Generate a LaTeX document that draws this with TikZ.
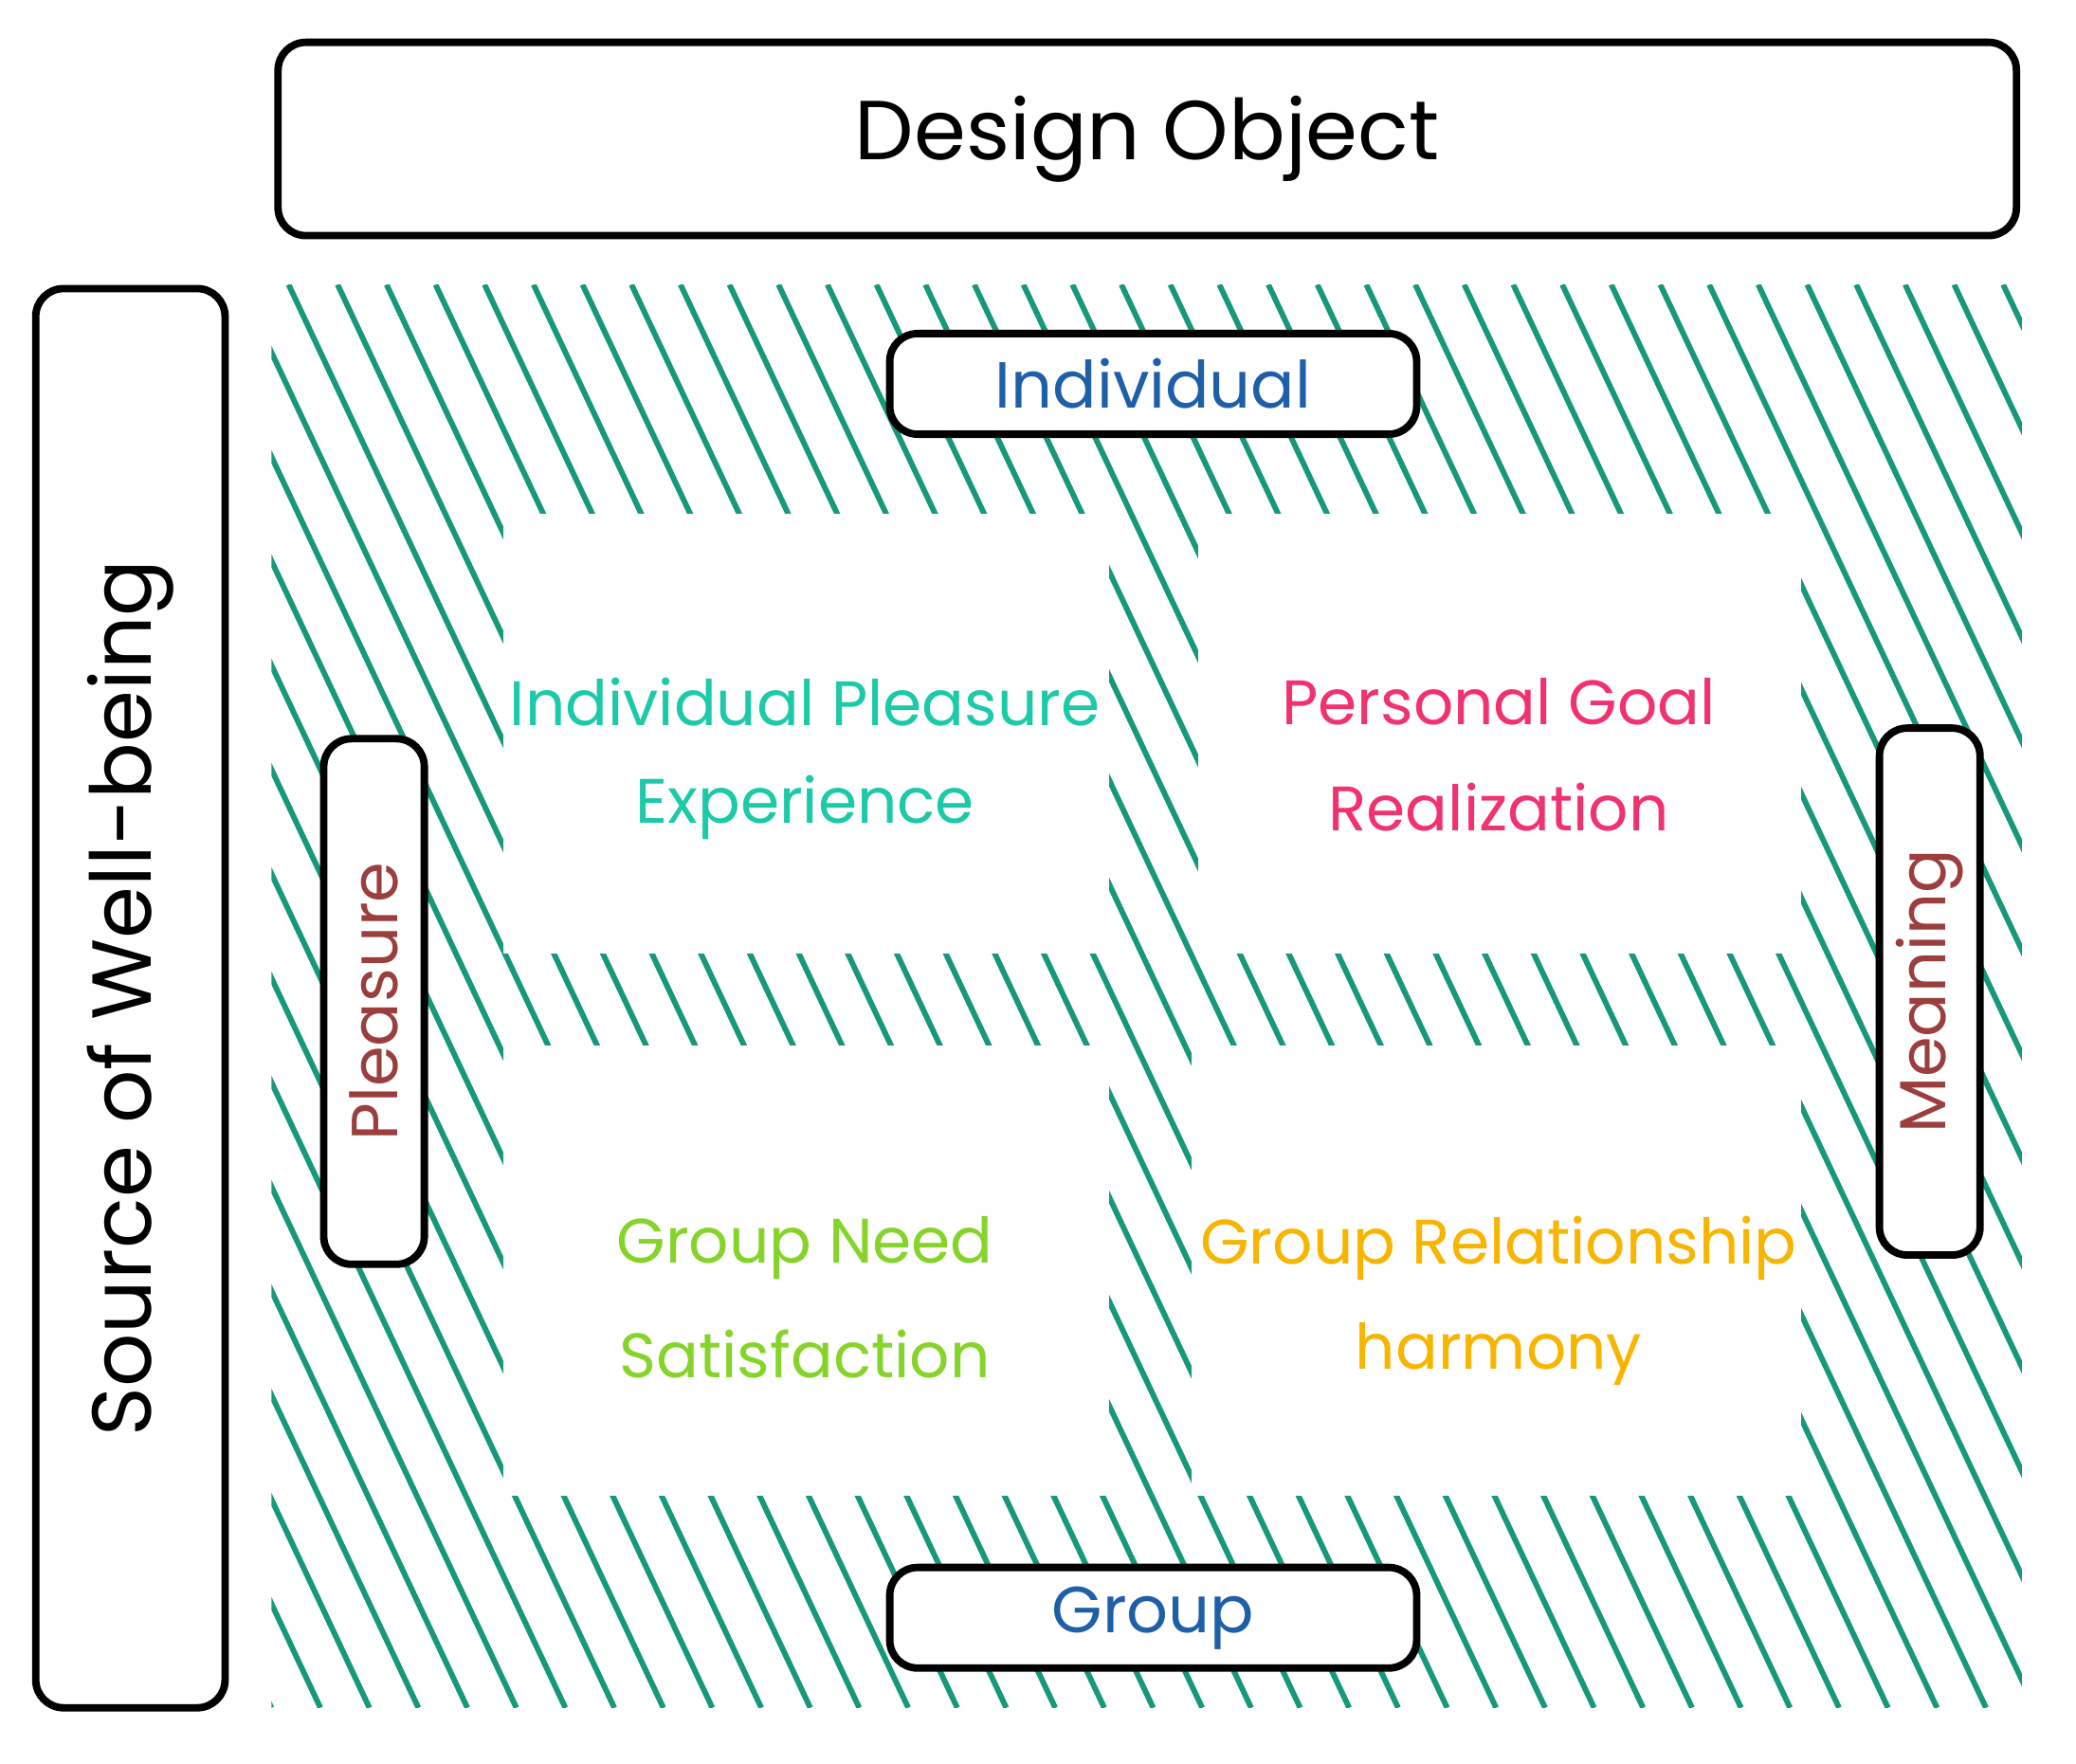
\documentclass[tikz,border=0pt]{standalone}
\usepackage{fontspec}
\setmainfont{Poppins}
\begin{document}
\begin{tikzpicture}
\definecolor{hatch}{HTML}{17987A}
\definecolor{cteal}{HTML}{1CC9A8}
\definecolor{cpink}{HTML}{F0336E}
\definecolor{cgreen}{HTML}{86D42A}
\definecolor{corange}{HTML}{F7B500}
\definecolor{cblue}{HTML}{1F5FA8}
\definecolor{cbrown}{HTML}{9A3E3E}
\tikzset{box/.style={draw=black,line width=1.6pt,rounded corners=6pt,fill=white,inner sep=0pt},
 inner/.style={font=\fontsize{13.5}{16}\selectfont}}
\useasboundingbox (0,0) rectangle (15.68,13.32);
% hatch
\begin{scope}
\clip (2.05,0.42) rectangle (15.27,11.17);
\foreach \x in {-3.0,-2.63,...,15.3}{
 \draw[hatch,line width=1.2pt] (\x,11.17) -- ++(5.05,-10.75);}
\end{scope}
\fill[white] (3.80,6.12) rectangle (8.38,9.44);
\fill[white] (9.05,6.12) rectangle (13.60,9.44);
\fill[white] (3.80,2.02) rectangle (8.38,5.42);
\fill[white] (9.00,2.02) rectangle (13.60,5.42);
% boxes
\node[box,minimum width=13.13cm,minimum height=1.46cm,font=\fontsize{18}{22}\selectfont] (design) at (8.665,12.27) {Design Object};
\node[box,minimum width=10.72cm,minimum height=1.43cm,rotate=90,font=\fontsize{18}{22}\selectfont] (source) at (0.985,5.78) {Source of Well-being};
\node[box,minimum width=3.98cm,minimum height=0.76cm,text=cblue,font=\fontsize{14}{17}\selectfont] (indiv) at (8.71,10.42) {Individual};
\node[box,minimum width=3.98cm,minimum height=0.76cm,text=cblue,font=\fontsize{14}{17}\selectfont] (group) at (8.71,1.10) {Group};
\node[box,minimum width=3.97cm,minimum height=0.76cm,rotate=90,text=cbrown,font=\fontsize{14}{17}\selectfont] (pleasure) at (2.825,5.755) {Pleasure};
\node[box,minimum width=3.98cm,minimum height=0.76cm,rotate=90,text=cbrown,font=\fontsize{14}{17}\selectfont] (meaning) at (14.575,5.83) {Meaning};
% texts
\node[inner,text=cteal] (ip1) at (6.08,8.02) {Individual Pleasure};
\node[inner,text=cteal] (ip2) at (6.08,7.22) {Experience};
\node[inner,text=cpink] (pg1) at (11.32,8.02) {Personal Goal};
\node[inner,text=cpink] (pg2) at (11.32,7.22) {Realization};
\node[inner,text=cgreen] (gn1) at (6.08,3.89) {Group Need};
\node[inner,text=cgreen] (gn2) at (6.08,3.09) {Satisfaction};
\node[inner,text=corange] (gr1) at (11.32,3.89) {Group Relationship};
\node[inner,text=corange] (gr2) at (11.32,3.09) {harmony};
\end{tikzpicture}
\end{document}
